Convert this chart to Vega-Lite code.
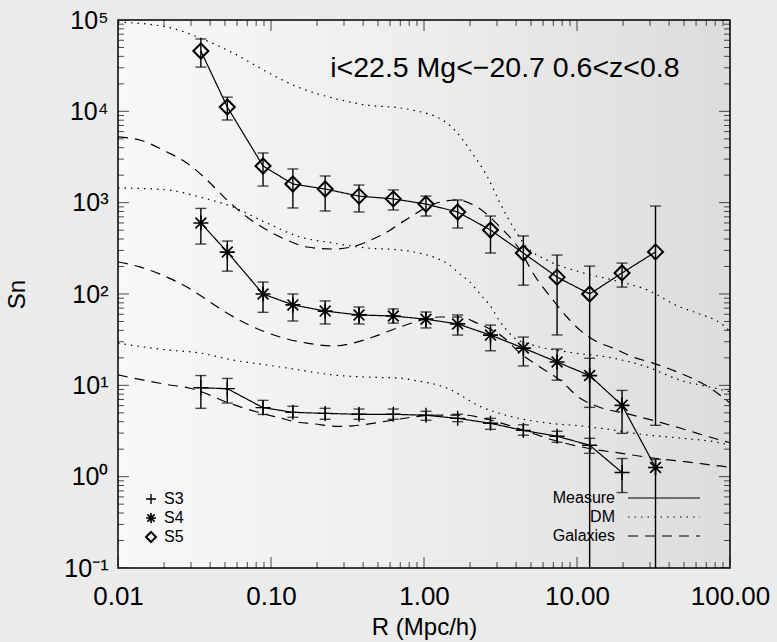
{
  "$schema": "https://vega.github.io/schema/vega-lite/v6.json",
  "width": 612,
  "height": 548,
  "autosize": {"type": "none"},
  "padding": {"left": 118, "top": 20, "right": 47, "bottom": 74},
  "background": "#ebebeb",
  "config": {
    "font": "Liberation Sans",
    "view": {
      "stroke": "black",
      "strokeWidth": 1.5,
      "fill": {
        "gradient": "linear", "x1": 0, "x2": 1, "y1": 0, "y2": 0,
        "stops": [
          {"offset": 0, "color": "#f8f8f8"},
          {"offset": 0.5, "color": "#ededed"},
          {"offset": 1, "color": "#dcdcdc"}
        ]
      }
    },
    "axis": {
      "domain": false, "ticks": false, "grid": false,
      "labelColor": "black", "titleColor": "black",
      "labelFont": "Liberation Sans", "titleFont": "Liberation Sans",
      "titleFontWeight": "normal"
    },
    "legend": {
      "labelFont": "Liberation Sans", "labelColor": "black", "labelFontSize": 16,
      "padding": 0
    }
  },
  "datasets": {
    "profiles": [
      {"kind": "Measure", "series": "S3", "R": 0.0348, "Sn": 9.4, "lo": 5.6, "hi": 12.8},
      {"kind": "Measure", "series": "S3", "R": 0.0518, "Sn": 9.2, "lo": 6.4, "hi": 11.9},
      {"kind": "Measure", "series": "S3", "R": 0.0887, "Sn": 5.7, "lo": 4.8, "hi": 6.85},
      {"kind": "Measure", "series": "S3", "R": 0.139, "Sn": 5.06, "lo": 4.47, "hi": 5.9},
      {"kind": "Measure", "series": "S3", "R": 0.226, "Sn": 4.93, "lo": 4.25, "hi": 5.6},
      {"kind": "Measure", "series": "S3", "R": 0.376, "Sn": 4.82, "lo": 4.25, "hi": 5.5},
      {"kind": "Measure", "series": "S3", "R": 0.63, "Sn": 4.82, "lo": 4.25, "hi": 5.5},
      {"kind": "Measure", "series": "S3", "R": 1.03, "Sn": 4.7, "lo": 4.14, "hi": 5.2},
      {"kind": "Measure", "series": "S3", "R": 1.66, "Sn": 4.35, "lo": 4.0, "hi": 4.82},
      {"kind": "Measure", "series": "S3", "R": 2.72, "Sn": 3.84, "lo": 3.3, "hi": 4.35},
      {"kind": "Measure", "series": "S3", "R": 4.46, "Sn": 3.21, "lo": 2.84, "hi": 3.7},
      {"kind": "Measure", "series": "S3", "R": 7.41, "Sn": 2.77, "lo": 2.38, "hi": 3.14},
      {"kind": "Measure", "series": "S3", "R": 12.1, "Sn": 2.21, "lo": 1.8, "hi": 2.63},
      {"kind": "Measure", "series": "S3", "R": 19.7, "Sn": 1.11, "lo": 0.67, "hi": 1.58},

      {"kind": "Measure", "series": "S4", "R": 0.0348, "Sn": 599, "lo": 352, "hi": 865},
      {"kind": "Measure", "series": "S4", "R": 0.0518, "Sn": 288, "lo": 178, "hi": 380},
      {"kind": "Measure", "series": "S4", "R": 0.0887, "Sn": 100, "lo": 63, "hi": 135},
      {"kind": "Measure", "series": "S4", "R": 0.139, "Sn": 76, "lo": 50.6, "hi": 100},
      {"kind": "Measure", "series": "S4", "R": 0.226, "Sn": 65, "lo": 47, "hi": 84},
      {"kind": "Measure", "series": "S4", "R": 0.376, "Sn": 59, "lo": 47, "hi": 72},
      {"kind": "Measure", "series": "S4", "R": 0.63, "Sn": 57.4, "lo": 48, "hi": 68.6},
      {"kind": "Measure", "series": "S4", "R": 1.03, "Sn": 53, "lo": 42.5, "hi": 63.5},
      {"kind": "Measure", "series": "S4", "R": 1.66, "Sn": 47, "lo": 35.5, "hi": 59},
      {"kind": "Measure", "series": "S4", "R": 2.72, "Sn": 35.5, "lo": 23.9, "hi": 45.7},
      {"kind": "Measure", "series": "S4", "R": 4.46, "Sn": 25.6, "lo": 16.3, "hi": 33.8},
      {"kind": "Measure", "series": "S4", "R": 7.41, "Sn": 18, "lo": 11.4, "hi": 25},
      {"kind": "Measure", "series": "S4", "R": 12.1, "Sn": 12.8, "lo": 5.74, "hi": 19.8},
      {"kind": "Measure", "series": "S4", "R": 19.7, "Sn": 6.04, "lo": 2.98, "hi": 8.8},
      {"kind": "Measure", "series": "S4", "R": 32.6, "Sn": 1.26, "lo": 0.05, "hi": 1.55},

      {"kind": "Measure", "series": "S5", "R": 0.0348, "Sn": 45800, "lo": 30500, "hi": 62000},
      {"kind": "Measure", "series": "S5", "R": 0.0518, "Sn": 11150, "lo": 8040, "hi": 14300},
      {"kind": "Measure", "series": "S5", "R": 0.0887, "Sn": 2520, "lo": 1520, "hi": 3500},
      {"kind": "Measure", "series": "S5", "R": 0.139, "Sn": 1600, "lo": 875, "hi": 2340},
      {"kind": "Measure", "series": "S5", "R": 0.226, "Sn": 1410, "lo": 811, "hi": 1960},
      {"kind": "Measure", "series": "S5", "R": 0.376, "Sn": 1180, "lo": 791, "hi": 1560},
      {"kind": "Measure", "series": "S5", "R": 0.63, "Sn": 1100, "lo": 832, "hi": 1380},
      {"kind": "Measure", "series": "S5", "R": 1.03, "Sn": 966, "lo": 714, "hi": 1180},
      {"kind": "Measure", "series": "S5", "R": 1.66, "Sn": 791, "lo": 528, "hi": 1070},
      {"kind": "Measure", "series": "S5", "R": 2.72, "Sn": 502, "lo": 281, "hi": 714},
      {"kind": "Measure", "series": "S5", "R": 4.46, "Sn": 281, "lo": 125, "hi": 432},
      {"kind": "Measure", "series": "S5", "R": 7.41, "Sn": 153, "lo": 35.6, "hi": 267},
      {"kind": "Measure", "series": "S5", "R": 12.1, "Sn": 100, "lo": 0.05, "hi": 202},
      {"kind": "Measure", "series": "S5", "R": 19.7, "Sn": 170, "lo": 119, "hi": 218},
      {"kind": "Measure", "series": "S5", "R": 32.6, "Sn": 289, "lo": 3.65, "hi": 918},

      {"kind": "DM", "series": "S5", "R": 0.01, "Sn": 95000},
      {"kind": "DM", "series": "S5", "R": 0.0209, "Sn": 83800},
      {"kind": "DM", "series": "S5", "R": 0.0344, "Sn": 63500},
      {"kind": "DM", "series": "S5", "R": 0.0565, "Sn": 43500},
      {"kind": "DM", "series": "S5", "R": 0.094, "Sn": 27000},
      {"kind": "DM", "series": "S5", "R": 0.155, "Sn": 18000},
      {"kind": "DM", "series": "S5", "R": 0.254, "Sn": 14000},
      {"kind": "DM", "series": "S5", "R": 0.424, "Sn": 11700},
      {"kind": "DM", "series": "S5", "R": 0.697, "Sn": 10900},
      {"kind": "DM", "series": "S5", "R": 0.848, "Sn": 10300},
      {"kind": "DM", "series": "S5", "R": 1.41, "Sn": 7450},
      {"kind": "DM", "series": "S5", "R": 1.8, "Sn": 4850},
      {"kind": "DM", "series": "S5", "R": 2.0, "Sn": 3770},
      {"kind": "DM", "series": "S5", "R": 2.6, "Sn": 1910},
      {"kind": "DM", "series": "S5", "R": 3.14, "Sn": 991},
      {"kind": "DM", "series": "S5", "R": 3.82, "Sn": 541},
      {"kind": "DM", "series": "S5", "R": 4.7, "Sn": 327},
      {"kind": "DM", "series": "S5", "R": 6.36, "Sn": 235},
      {"kind": "DM", "series": "S5", "R": 10.5, "Sn": 174},
      {"kind": "DM", "series": "S5", "R": 17.2, "Sn": 142},
      {"kind": "DM", "series": "S5", "R": 28.7, "Sn": 111},
      {"kind": "DM", "series": "S5", "R": 47.1, "Sn": 72},
      {"kind": "DM", "series": "S5", "R": 60.8, "Sn": 62},
      {"kind": "DM", "series": "S5", "R": 90, "Sn": 45.7},
      {"kind": "DM", "series": "S5", "R": 100, "Sn": 39},

      {"kind": "DM", "series": "S4", "R": 0.01, "Sn": 1450},
      {"kind": "DM", "series": "S4", "R": 0.0209, "Sn": 1380},
      {"kind": "DM", "series": "S4", "R": 0.0344, "Sn": 1150},
      {"kind": "DM", "series": "S4", "R": 0.0565, "Sn": 896},
      {"kind": "DM", "series": "S4", "R": 0.094, "Sn": 598},
      {"kind": "DM", "series": "S4", "R": 0.155, "Sn": 421},
      {"kind": "DM", "series": "S4", "R": 0.254, "Sn": 362},
      {"kind": "DM", "series": "S4", "R": 0.424, "Sn": 319},
      {"kind": "DM", "series": "S4", "R": 0.697, "Sn": 303},
      {"kind": "DM", "series": "S4", "R": 1.41, "Sn": 218},
      {"kind": "DM", "series": "S4", "R": 1.72, "Sn": 165},
      {"kind": "DM", "series": "S4", "R": 2.0, "Sn": 135},
      {"kind": "DM", "series": "S4", "R": 2.32, "Sn": 100},
      {"kind": "DM", "series": "S4", "R": 2.7, "Sn": 75},
      {"kind": "DM", "series": "S4", "R": 3.14, "Sn": 50},
      {"kind": "DM", "series": "S4", "R": 3.82, "Sn": 34},
      {"kind": "DM", "series": "S4", "R": 5.15, "Sn": 27.6},
      {"kind": "DM", "series": "S4", "R": 8.6, "Sn": 23.2},
      {"kind": "DM", "series": "S4", "R": 17.2, "Sn": 19.9},
      {"kind": "DM", "series": "S4", "R": 28.7, "Sn": 15.9},
      {"kind": "DM", "series": "S4", "R": 47.1, "Sn": 11.4},
      {"kind": "DM", "series": "S4", "R": 77.4, "Sn": 9.4},
      {"kind": "DM", "series": "S4", "R": 100, "Sn": 8.5},

      {"kind": "DM", "series": "S3", "R": 0.01, "Sn": 29},
      {"kind": "DM", "series": "S3", "R": 0.0209, "Sn": 24.4},
      {"kind": "DM", "series": "S3", "R": 0.0344, "Sn": 22.6},
      {"kind": "DM", "series": "S3", "R": 0.0565, "Sn": 18.9},
      {"kind": "DM", "series": "S3", "R": 0.0942, "Sn": 16.7},
      {"kind": "DM", "series": "S3", "R": 0.155, "Sn": 14.7},
      {"kind": "DM", "series": "S3", "R": 0.254, "Sn": 13.0},
      {"kind": "DM", "series": "S3", "R": 0.424, "Sn": 12.3},
      {"kind": "DM", "series": "S3", "R": 0.697, "Sn": 12.0},
      {"kind": "DM", "series": "S3", "R": 0.848, "Sn": 11.4},
      {"kind": "DM", "series": "S3", "R": 1.41, "Sn": 9.35},
      {"kind": "DM", "series": "S3", "R": 2.32, "Sn": 5.9},
      {"kind": "DM", "series": "S3", "R": 3.82, "Sn": 4.5},
      {"kind": "DM", "series": "S3", "R": 6.36, "Sn": 3.87},
      {"kind": "DM", "series": "S3", "R": 10.5, "Sn": 3.6},
      {"kind": "DM", "series": "S3", "R": 17.2, "Sn": 3.24},
      {"kind": "DM", "series": "S3", "R": 28.7, "Sn": 2.86},
      {"kind": "DM", "series": "S3", "R": 47.1, "Sn": 2.65},
      {"kind": "DM", "series": "S3", "R": 95.5, "Sn": 2.25},
      {"kind": "DM", "series": "S3", "R": 100, "Sn": 2.2},

      {"kind": "Galaxies", "series": "S5", "R": 0.01, "Sn": 5240},
      {"kind": "Galaxies", "series": "S5", "R": 0.0139, "Sn": 4850},
      {"kind": "Galaxies", "series": "S5", "R": 0.0209, "Sn": 3590},
      {"kind": "Galaxies", "series": "S5", "R": 0.0282, "Sn": 2720},
      {"kind": "Galaxies", "series": "S5", "R": 0.0382, "Sn": 1770},
      {"kind": "Galaxies", "series": "S5", "R": 0.0515, "Sn": 1070},
      {"kind": "Galaxies", "series": "S5", "R": 0.0697, "Sn": 697},
      {"kind": "Galaxies", "series": "S5", "R": 0.0942, "Sn": 502},
      {"kind": "Galaxies", "series": "S5", "R": 0.127, "Sn": 390},
      {"kind": "Galaxies", "series": "S5", "R": 0.172, "Sn": 327},
      {"kind": "Galaxies", "series": "S5", "R": 0.254, "Sn": 311},
      {"kind": "Galaxies", "series": "S5", "R": 0.343, "Sn": 330},
      {"kind": "Galaxies", "series": "S5", "R": 0.464, "Sn": 400},
      {"kind": "Galaxies", "series": "S5", "R": 0.6, "Sn": 500},
      {"kind": "Galaxies", "series": "S5", "R": 0.729, "Sn": 620},
      {"kind": "Galaxies", "series": "S5", "R": 1.216, "Sn": 991},
      {"kind": "Galaxies", "series": "S5", "R": 1.64, "Sn": 1070},
      {"kind": "Galaxies", "series": "S5", "R": 2.22, "Sn": 896},
      {"kind": "Galaxies", "series": "S5", "R": 3.14, "Sn": 542},
      {"kind": "Galaxies", "series": "S5", "R": 4.24, "Sn": 303},
      {"kind": "Galaxies", "series": "S5", "R": 5.15, "Sn": 170},
      {"kind": "Galaxies", "series": "S5", "R": 6.97, "Sn": 86},
      {"kind": "Galaxies", "series": "S5", "R": 8.6, "Sn": 56},
      {"kind": "Galaxies", "series": "S5", "R": 10.5, "Sn": 40},
      {"kind": "Galaxies", "series": "S5", "R": 13.5, "Sn": 30},
      {"kind": "Galaxies", "series": "S5", "R": 17.2, "Sn": 25.6},
      {"kind": "Galaxies", "series": "S5", "R": 23.2, "Sn": 20.4},
      {"kind": "Galaxies", "series": "S5", "R": 31.4, "Sn": 17.5},
      {"kind": "Galaxies", "series": "S5", "R": 42, "Sn": 14.7},
      {"kind": "Galaxies", "series": "S5", "R": 77.4, "Sn": 8.9},
      {"kind": "Galaxies", "series": "S5", "R": 100, "Sn": 6.4},

      {"kind": "Galaxies", "series": "S4", "R": 0.01, "Sn": 224},
      {"kind": "Galaxies", "series": "S4", "R": 0.0139, "Sn": 198},
      {"kind": "Galaxies", "series": "S4", "R": 0.0209, "Sn": 153},
      {"kind": "Galaxies", "series": "S4", "R": 0.0282, "Sn": 119},
      {"kind": "Galaxies", "series": "S4", "R": 0.0382, "Sn": 86},
      {"kind": "Galaxies", "series": "S4", "R": 0.0515, "Sn": 62},
      {"kind": "Galaxies", "series": "S4", "R": 0.0697, "Sn": 47},
      {"kind": "Galaxies", "series": "S4", "R": 0.1145, "Sn": 33.8},
      {"kind": "Galaxies", "series": "S4", "R": 0.172, "Sn": 29},
      {"kind": "Galaxies", "series": "S4", "R": 0.254, "Sn": 27},
      {"kind": "Galaxies", "series": "S4", "R": 0.343, "Sn": 29},
      {"kind": "Galaxies", "series": "S4", "R": 0.464, "Sn": 33.8},
      {"kind": "Galaxies", "series": "S4", "R": 0.697, "Sn": 43.5},
      {"kind": "Galaxies", "series": "S4", "R": 1.27, "Sn": 56},
      {"kind": "Galaxies", "series": "S4", "R": 1.72, "Sn": 56},
      {"kind": "Galaxies", "series": "S4", "R": 2.22, "Sn": 48},
      {"kind": "Galaxies", "series": "S4", "R": 3.28, "Sn": 33.8},
      {"kind": "Galaxies", "series": "S4", "R": 4.24, "Sn": 22.6},
      {"kind": "Galaxies", "series": "S4", "R": 5.73, "Sn": 15.9},
      {"kind": "Galaxies", "series": "S4", "R": 7.75, "Sn": 11.4},
      {"kind": "Galaxies", "series": "S4", "R": 10.5, "Sn": 7.2},
      {"kind": "Galaxies", "series": "S4", "R": 13.5, "Sn": 5.9},
      {"kind": "Galaxies", "series": "S4", "R": 22.2, "Sn": 4.8},
      {"kind": "Galaxies", "series": "S4", "R": 36.5, "Sn": 3.85},
      {"kind": "Galaxies", "series": "S4", "R": 47.1, "Sn": 3.41},
      {"kind": "Galaxies", "series": "S4", "R": 77.4, "Sn": 2.65},
      {"kind": "Galaxies", "series": "S4", "R": 100, "Sn": 2.35},

      {"kind": "Galaxies", "series": "S3", "R": 0.01, "Sn": 13.0},
      {"kind": "Galaxies", "series": "S3", "R": 0.0139, "Sn": 11.6},
      {"kind": "Galaxies", "series": "S3", "R": 0.0209, "Sn": 10.2},
      {"kind": "Galaxies", "series": "S3", "R": 0.0296, "Sn": 9.3},
      {"kind": "Galaxies", "series": "S3", "R": 0.0344, "Sn": 8.6},
      {"kind": "Galaxies", "series": "S3", "R": 0.0518, "Sn": 6.5},
      {"kind": "Galaxies", "series": "S3", "R": 0.0697, "Sn": 5.5},
      {"kind": "Galaxies", "series": "S3", "R": 0.0887, "Sn": 4.9},
      {"kind": "Galaxies", "series": "S3", "R": 0.1145, "Sn": 4.4},
      {"kind": "Galaxies", "series": "S3", "R": 0.143, "Sn": 4.0},
      {"kind": "Galaxies", "series": "S3", "R": 0.188, "Sn": 3.8},
      {"kind": "Galaxies", "series": "S3", "R": 0.272, "Sn": 3.55},
      {"kind": "Galaxies", "series": "S3", "R": 0.343, "Sn": 3.6},
      {"kind": "Galaxies", "series": "S3", "R": 0.515, "Sn": 3.95},
      {"kind": "Galaxies", "series": "S3", "R": 0.81, "Sn": 4.45},
      {"kind": "Galaxies", "series": "S3", "R": 1.094, "Sn": 4.7},
      {"kind": "Galaxies", "series": "S3", "R": 1.8, "Sn": 4.73},
      {"kind": "Galaxies", "series": "S3", "R": 2.7, "Sn": 4.17},
      {"kind": "Galaxies", "series": "S3", "R": 4.44, "Sn": 3.24},
      {"kind": "Galaxies", "series": "S3", "R": 6.97, "Sn": 2.52},
      {"kind": "Galaxies", "series": "S3", "R": 11.6, "Sn": 2.06},
      {"kind": "Galaxies", "series": "S3", "R": 19.1, "Sn": 1.81},
      {"kind": "Galaxies", "series": "S3", "R": 31.4, "Sn": 1.6},
      {"kind": "Galaxies", "series": "S3", "R": 52.4, "Sn": 1.45},
      {"kind": "Galaxies", "series": "S3", "R": 95.5, "Sn": 1.28},
      {"kind": "Galaxies", "series": "S3", "R": 100, "Sn": 1.27}
    ],
    "xticks": [
      {"v": 0.01, "level": "major"}, {"v": 0.02, "level": "minor"}, {"v": 0.03, "level": "minor"},
      {"v": 0.04, "level": "minor"}, {"v": 0.05, "level": "minor"}, {"v": 0.06, "level": "minor"},
      {"v": 0.07, "level": "minor"}, {"v": 0.08, "level": "minor"}, {"v": 0.09, "level": "minor"},
      {"v": 0.1, "level": "major"}, {"v": 0.2, "level": "minor"}, {"v": 0.3, "level": "minor"},
      {"v": 0.4, "level": "minor"}, {"v": 0.5, "level": "minor"}, {"v": 0.6, "level": "minor"},
      {"v": 0.7, "level": "minor"}, {"v": 0.8, "level": "minor"}, {"v": 0.9, "level": "minor"},
      {"v": 1, "level": "major"}, {"v": 2, "level": "minor"}, {"v": 3, "level": "minor"},
      {"v": 4, "level": "minor"}, {"v": 5, "level": "minor"}, {"v": 6, "level": "minor"},
      {"v": 7, "level": "minor"}, {"v": 8, "level": "minor"}, {"v": 9, "level": "minor"},
      {"v": 10, "level": "major"}, {"v": 20, "level": "minor"}, {"v": 30, "level": "minor"},
      {"v": 40, "level": "minor"}, {"v": 50, "level": "minor"}, {"v": 60, "level": "minor"},
      {"v": 70, "level": "minor"}, {"v": 80, "level": "minor"}, {"v": 90, "level": "minor"},
      {"v": 100, "level": "major"}
    ],
    "yticks": [
      {"v": 0.1, "level": "major"}, {"v": 0.2, "level": "minor"}, {"v": 0.3, "level": "minor"},
      {"v": 0.4, "level": "minor"}, {"v": 0.5, "level": "minor"}, {"v": 0.6, "level": "minor"},
      {"v": 0.7, "level": "minor"}, {"v": 0.8, "level": "minor"}, {"v": 0.9, "level": "minor"},
      {"v": 1, "level": "major"}, {"v": 2, "level": "minor"}, {"v": 3, "level": "minor"},
      {"v": 4, "level": "minor"}, {"v": 5, "level": "minor"}, {"v": 6, "level": "minor"},
      {"v": 7, "level": "minor"}, {"v": 8, "level": "minor"}, {"v": 9, "level": "minor"},
      {"v": 10, "level": "major"}, {"v": 20, "level": "minor"}, {"v": 30, "level": "minor"},
      {"v": 40, "level": "minor"}, {"v": 50, "level": "minor"}, {"v": 60, "level": "minor"},
      {"v": 70, "level": "minor"}, {"v": 80, "level": "minor"}, {"v": 90, "level": "minor"},
      {"v": 100, "level": "major"}, {"v": 200, "level": "minor"}, {"v": 300, "level": "minor"},
      {"v": 400, "level": "minor"}, {"v": 500, "level": "minor"}, {"v": 600, "level": "minor"},
      {"v": 700, "level": "minor"}, {"v": 800, "level": "minor"}, {"v": 900, "level": "minor"},
      {"v": 1000, "level": "major"}, {"v": 2000, "level": "minor"}, {"v": 3000, "level": "minor"},
      {"v": 4000, "level": "minor"}, {"v": 5000, "level": "minor"}, {"v": 6000, "level": "minor"},
      {"v": 7000, "level": "minor"}, {"v": 8000, "level": "minor"}, {"v": 9000, "level": "minor"},
      {"v": 10000, "level": "major"}, {"v": 20000, "level": "minor"}, {"v": 30000, "level": "minor"},
      {"v": 40000, "level": "minor"}, {"v": 50000, "level": "minor"}, {"v": 60000, "level": "minor"},
      {"v": 70000, "level": "minor"}, {"v": 80000, "level": "minor"}, {"v": 90000, "level": "minor"},
      {"v": 100000, "level": "major"}
    ],
    "notes": [
      {"R": 3.38, "Sn": 23800, "note": "i<22.5 Mg<−20.7 0.6<z<0.8"}
    ]
  },
  "data": {"name": "profiles"},
  "layer": [
    {
      "transform": [{"filter": "datum.kind !== 'Measure'"}],
      "mark": {"type": "line", "color": "black", "strokeWidth": 1.2, "interpolate": "monotone", "clip": true},
      "encoding": {
        "x": {"field": "R", "type": "quantitative",
          "scale": {"type": "log", "domain": [0.01, 100], "nice": false},
          "axis": {"orient": "bottom", "values": [0.01, 0.1, 1, 10, 100],
            "format": ".2f", "labelFontSize": 26, "labelPadding": 15, "labelFlush": false,
            "labelOverlap": false, "labelBound": false,
            "title": "R (Mpc/h)", "titleFontSize": 24, "titlePadding": 6}},
        "y": {"field": "Sn", "type": "quantitative",
          "scale": {"type": "log", "domain": [0.1, 100000], "nice": false},
          "axis": {"orient": "left", "values": [0.1, 1, 10, 100, 1000, 10000, 100000],
            "labelExpr": "'10' + (datum.value < 0.5 ? '⁻¹' : datum.value < 5 ? '⁰' : datum.value < 50 ? '¹' : datum.value < 500 ? '²' : datum.value < 5000 ? '³' : datum.value < 50000 ? '⁴' : '⁵')",
            "labelFontSize": 25, "labelPadding": 10, "labelFlush": false, "labelOverlap": false,
            "labelBound": false,
            "title": "Sn", "titleFontSize": 24, "titlePadding": 34}},
        "strokeDash": {"field": "kind", "type": "nominal",
          "scale": {"domain": ["Measure", "DM", "Galaxies"], "range": [[1, 0], [1.5, 5], [10, 7]]},
          "legend": {"orient": "none", "legendX": 537, "legendY": 469, "title": null,
            "symbolType": "M-4.5,0L4.5,0", "symbolSize": 256, "symbolStrokeColor": "black",
            "symbolStrokeWidth": 1.2, "labelAlign": "right", "labelOffset": -58,
            "rowPadding": 2}},
        "detail": {"field": "series", "type": "nominal"}
      }
    },
    {
      "transform": [{"filter": "datum.kind === 'Measure'"}],
      "mark": {"type": "line", "color": "black", "strokeWidth": 1.2},
      "encoding": {
        "x": {"field": "R", "type": "quantitative"},
        "y": {"field": "Sn", "type": "quantitative"},
        "strokeDash": {"field": "kind", "type": "nominal"},
        "detail": {"field": "series", "type": "nominal"}
      }
    },
    {
      "transform": [{"filter": "datum.kind === 'Measure'"}],
      "mark": {"type": "rule", "color": "black", "strokeWidth": 1.4, "clip": true},
      "encoding": {
        "x": {"field": "R", "type": "quantitative"},
        "y": {"field": "lo", "type": "quantitative"},
        "y2": {"field": "hi"}
      }
    },
    {
      "transform": [{"filter": "datum.kind === 'Measure'"}],
      "mark": {"type": "tick", "orient": "horizontal", "color": "black", "size": 11, "thickness": 1.4, "clip": true},
      "encoding": {
        "x": {"field": "R", "type": "quantitative"},
        "y": {"field": "lo", "type": "quantitative"}
      }
    },
    {
      "transform": [{"filter": "datum.kind === 'Measure'"}],
      "mark": {"type": "tick", "orient": "horizontal", "color": "black", "size": 11, "thickness": 1.4, "clip": true},
      "encoding": {
        "x": {"field": "R", "type": "quantitative"},
        "y": {"field": "hi", "type": "quantitative"}
      }
    },
    {
      "transform": [{"filter": "datum.kind === 'Measure'"}],
      "mark": {"type": "point", "filled": false, "color": "black", "size": 225, "opacity": 1},
      "encoding": {
        "x": {"field": "R", "type": "quantitative"},
        "y": {"field": "Sn", "type": "quantitative"},
        "shape": {"field": "series", "type": "nominal",
          "scale": {"domain": ["S3", "S4", "S5"],
            "range": ["M-1,0L1,0M0,-1L0,1",
                      "M-1,0L1,0M0,-1L0,1M-0.72,-0.72L0.72,0.72M-0.72,0.72L0.72,-0.72",
                      "M0,-1L1,0L0,1L-1,0Z"]},
          "legend": {"orient": "none", "legendX": 25, "legendY": 471, "title": null,
            "symbolSize": 100, "symbolStrokeColor": "black", "symbolFillColor": "transparent",
            "symbolStrokeWidth": 1.3, "labelOffset": 5, "rowPadding": 3, "clipHeight": 16}},
        "strokeWidth": {"field": "series", "type": "nominal",
          "scale": {"domain": ["S3", "S4", "S5"], "range": [1.4, 2, 1.3]}, "legend": null}
      }
    },
    {
      "data": {"name": "xticks"},
      "mark": {"type": "tick", "orient": "vertical", "color": "black", "thickness": 1, "clip": true},
      "encoding": {
        "x": {"field": "v", "type": "quantitative"},
        "y": {"datum": 0.1, "type": "quantitative"},
        "size": {"field": "level", "type": "nominal",
          "scale": {"domain": ["major", "minor"], "range": [22, 12]}, "legend": null}
      }
    },
    {
      "data": {"name": "xticks"},
      "mark": {"type": "tick", "orient": "vertical", "color": "black", "thickness": 1, "clip": true},
      "encoding": {
        "x": {"field": "v", "type": "quantitative"},
        "y": {"datum": 100000, "type": "quantitative"},
        "size": {"field": "level", "type": "nominal", "legend": null}
      }
    },
    {
      "data": {"name": "yticks"},
      "mark": {"type": "tick", "orient": "horizontal", "color": "black", "thickness": 1, "clip": true},
      "encoding": {
        "y": {"field": "v", "type": "quantitative"},
        "x": {"datum": 0.01, "type": "quantitative"},
        "size": {"field": "level", "type": "nominal", "legend": null}
      }
    },
    {
      "data": {"name": "yticks"},
      "mark": {"type": "tick", "orient": "horizontal", "color": "black", "thickness": 1, "clip": true},
      "encoding": {
        "y": {"field": "v", "type": "quantitative"},
        "x": {"datum": 100, "type": "quantitative"},
        "size": {"field": "level", "type": "nominal", "legend": null}
      }
    },
    {
      "data": {"name": "notes"},
      "mark": {"type": "text", "font": "Liberation Sans", "fontSize": 28.5, "color": "black",
        "align": "center", "baseline": "alphabetic"},
      "encoding": {
        "x": {"field": "R", "type": "quantitative"},
        "y": {"field": "Sn", "type": "quantitative"},
        "text": {"field": "note"}
      }
    }
  ]
}
